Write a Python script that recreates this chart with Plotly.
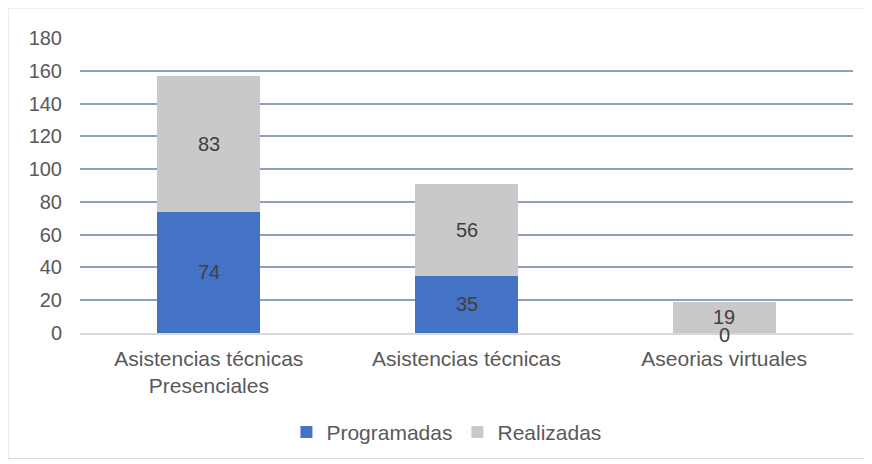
import plotly.graph_objects as go

categories = ["Asistencias técnicas<br>Presenciales", "Asistencias técnicas", "Aseorias virtuales"]
programadas = [74, 35, 0]
realizadas = [83, 56, 19]
y_ticks = [0, 20, 40, 60, 80, 100, 120, 140, 160, 180]

BLUE = "#4472C4"
GRAY = "#C9C9C9"
FONT = "Liberation Sans, Arial, sans-serif"

fig = go.Figure()
fig.add_trace(go.Bar(x=categories, y=programadas, name="Programadas",
                     marker=dict(color=BLUE, line=dict(width=0))))
fig.add_trace(go.Bar(x=categories, y=realizadas, name="Realizadas",
                     marker=dict(color=GRAY, line=dict(width=0))))

# data labels centred in each segment
prog_mid = [p / 2 for p in programadas]
real_mid = [p + r / 2 for p, r in zip(programadas, realizadas)]
for cat, ym, v in list(zip(categories, prog_mid, programadas)) + list(zip(categories, real_mid, realizadas)):
    fig.add_annotation(x=cat, y=ym, text=str(v), showarrow=False, borderpad=0,
                       xanchor="center", yanchor="middle", yshift=-2 if v == 0 else 0,
                       font=dict(size=20, color="#404040", family=FONT))

fig.update_layout(
    width=864, height=456,
    barmode="stack", bargap=0.6,
    plot_bgcolor="white", paper_bgcolor="white",
    margin=dict(l=72, r=19, t=29, b=131, autoexpand=False),
    font=dict(family=FONT, size=20, color="#595959"),
    legend=dict(orientation="h", x=0.474, xanchor="center", y=-0.336, yanchor="middle",
                font=dict(size=21, color="#595959"), traceorder="normal",
                itemwidth=30),
    showlegend=True,
    shapes=[dict(type="rect", xref="paper", yref="paper",
                 x0=-0.0931, x1=1.0155, y0=-0.4237, y1=1.0983,
                 line=dict(color="#D9D9D9", width=1), fillcolor="rgba(0,0,0,0)",
                 layer="below")],
)
fig.update_yaxes(range=[0, 180.6], tickvals=y_ticks, showgrid=True,
                 gridcolor="#8EA0BC", gridwidth=1.5, zeroline=False,
                 showline=False, ticklabelstandoff=17,
                 tickfont=dict(size=20, color="#595959"))
fig.update_xaxes(showline=True, linecolor="#D9D9D9", linewidth=1.5,
                 ticklabelstandoff=6, tickfont=dict(size=21, color="#595959"))

fig.write_html("out.html")
